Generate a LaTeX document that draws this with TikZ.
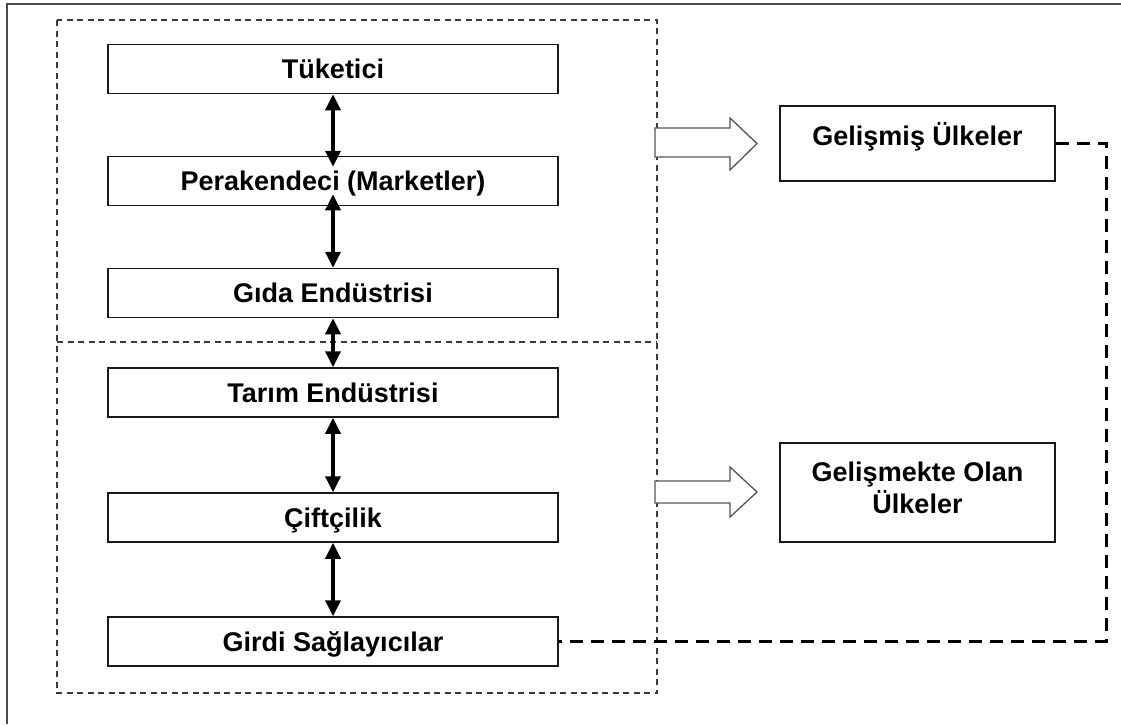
\documentclass[tikz,border=0pt]{standalone}
\usepackage{fontspec}
\setmainfont{Liberation Sans}
\usetikzlibrary{arrows.meta}

\definecolor{framegray}{HTML}{4A4A4A}
\definecolor{zonegray}{HTML}{3A3A3A}
\definecolor{hollowgray}{HTML}{555555}

\tikzset{
  chainbox/.style={draw=black!90, line width=1.5pt, fill=white, inner sep=0pt,
    minimum width=450pt, minimum height=49pt, text height=19.5pt, text depth=0pt,
    font=\fontsize{27}{32}\selectfont\bfseries},
  regionbox/.style={draw=black!90, line width=1.5pt, fill=white, inner sep=0pt,
    minimum width=275pt, align=center,
    font=\fontsize{27}{32}\selectfont\bfseries},
  zone/.style={draw=zonegray, line width=1.4pt, dash pattern=on 6pt off 4.5pt},
  link/.style={line width=3.5pt, {Triangle[width=15pt,length=16pt]}-{Triangle[width=15pt,length=16pt]}},
  hollow/.style={draw=hollowgray, line width=1.3pt, fill=white, line join=miter},
  feedback/.style={line width=3pt, dash pattern=on 13pt off 8pt},
  frame/.style={draw=framegray, line width=2pt}
}

\begin{document}
\begin{tikzpicture}[x=1pt, y=-1pt]
  \useasboundingbox (0,0) rectangle (1121,724);

  % page frame, open to the right and at the bottom
  \draw[frame] (7,724) -- (7,4) -- (1121,4);

  % dashed zones: upper and lower halves of the chain
  \draw[zone] (57,20) rectangle (657,693);
  \draw[zone] (57,342) -- (657,342);

  % supply chain
  \node[chainbox] (tuk)    at (333,69)    {Tüketici};
  \node[chainbox] (per)    at (333,181)   {Perakendeci (Marketler)};
  \node[chainbox] (gida)   at (333,293)   {Gıda Endüstrisi};
  \node[chainbox] (tarim)  at (333,392.5) {Tarım Endüstrisi};
  \node[chainbox] (ciftci) at (333,517.5) {Çiftçilik};
  \node[chainbox] (girdi)  at (333,641.5) {Girdi Sağlayıcılar};

  \draw[link, shorten >=-11pt] (tuk.south) -- (per.north);
  \draw[link, shorten <=-12pt] (per.south) -- (gida.north);
  \draw[link] (gida.south) -- (tarim.north);
  \draw[link] (tarim.south) -- (ciftci.north);
  \draw[link] (ciftci.south) -- (girdi.north);

  % country groups
  \node[regionbox, minimum height=75pt, text height=19.5pt, text depth=16pt]
    (gelismis) at (917.5,143.5) {Gelişmiş Ülkeler};
  \node[regionbox, minimum height=99pt]
    (gelismekte) at (917.5,492.5) {Gelişmekte Olan\\Ülkeler\rule[-10pt]{0pt}{0pt}};

  % hollow block arrows from the zones to the country groups
  \draw[hollow] (655,128) -- (730,128) -- (730,118) -- (757,143.5)
    -- (730,170) -- (730,157) -- (655,157) -- cycle;
  \draw[hollow] (655,481) -- (730,481) -- (730,467) -- (757,492)
    -- (730,517) -- (730,503) -- (655,503) -- cycle;

  % feedback line from the developed countries to the input suppliers
  \coordinate (turn) at (1106,143.5);
  \draw[feedback] (gelismis.east) -- (turn) |- (girdi.east);
\end{tikzpicture}
\end{document}
